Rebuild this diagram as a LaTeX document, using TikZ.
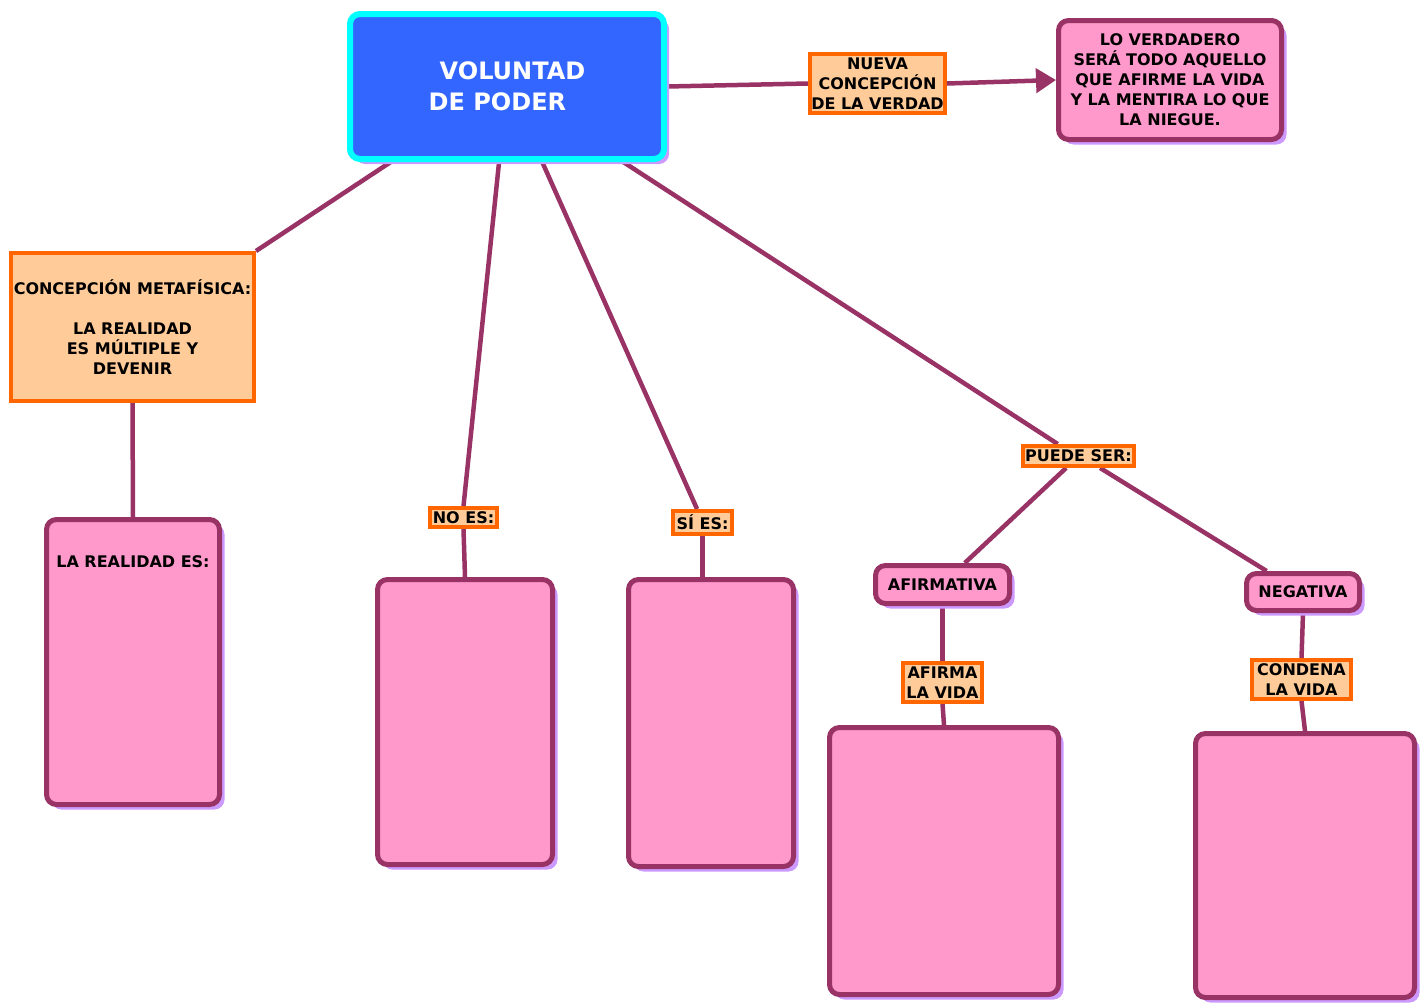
\documentclass[tikz,border=0pt]{standalone}
\usepackage{fontspec}
\setmainfont{DejaVu Sans}
\usetikzlibrary{arrows.meta, positioning, backgrounds, shadows}

\definecolor{plum}{HTML}{993366}
\definecolor{rosa}{HTML}{FF99CC}
\definecolor{lila}{HTML}{CC99FF}
\definecolor{naranja}{HTML}{FF6600}
\definecolor{melon}{HTML}{FFCC99}
\definecolor{azul}{HTML}{3366FF}
\definecolor{cian}{HTML}{00FFFF}

\begin{document}
\begin{tikzpicture}[
      x=1pt, y=-1pt,
      font=\fontsize{16}{20}\selectfont\bfseries,
      lilashadow/.style={drop shadow={shadow xshift=5pt, shadow yshift=-5pt, fill=lila, opacity=1}},
      rosabox/.style={rectangle, rounded corners=10pt, draw=plum, line width=5pt, fill=rosa, lilashadow, inner sep=2pt, align=center},
      tag/.style={rectangle, draw=naranja, line width=4pt, fill=melon, inner sep=1pt, align=center},
      link/.style={draw=plum, line width=4.5pt}
    ]
    \useasboundingbox (0,0) rectangle (1426,1004);

    % Root
    \node[rectangle, rounded corners=10pt, draw=cian, line width=6pt, fill=azul, lilashadow,
      minimum width=314pt, minimum height=145pt, text=white, align=left,
      font=\fontsize{24}{31}\selectfont\bfseries] (voluntad) at (507,86.5) {\hspace*{11pt}VOLUNTAD\\DE PODER\hspace*{16pt}};

    % Truth
    \node[tag, minimum width=135pt, minimum height=59pt] (nueva) at (877.5,83.5) {NUEVA\\CONCEPCIÓN\\DE LA VERDAD};
    \node[rosabox, minimum width=223pt, minimum height=119pt] (verdadero) at (1170,80) {LO VERDADERO\\SERÁ TODO AQUELLO\\QUE AFIRME LA VIDA\\Y LA MENTIRA LO QUE\\LA NIEGUE.};

    % Metaphysics
    \node[tag, minimum width=243pt, minimum height=148pt] (metafisica) at (132.5,327) {CONCEPCIÓN METAFÍSICA:\\[20pt]LA REALIDAD\\ES MÚLTIPLE Y\\DEVENIR};
    \node[rosabox, minimum width=173pt, minimum height=285pt,
      label={[anchor=north, yshift=-35pt]north:LA REALIDAD ES:}] (realidad) at (133,662) {};

    % No es / Si es
    \node[tag, minimum width=67pt, minimum height=19pt] (noes) at (463.5,517.5) {NO ES:};
    \node[rosabox, minimum width=175pt, minimum height=285pt] (noesbox) at (465,722) {};
    \node[tag, minimum width=59pt, minimum height=23pt] (sies) at (702.5,522.5) {SÍ ES:};
    \node[rosabox, minimum width=165pt, minimum height=287pt] (siesbox) at (711,723) {};

    % Puede ser
    \node[tag, minimum width=111pt, minimum height=20pt] (puede) at (1078.5,456) {PUEDE SER:};
    \node[rosabox, minimum width=134pt, minimum height=38pt] (afirmativa) at (942.5,584.5) {AFIRMATIVA};
    \node[rosabox, minimum width=113pt, minimum height=37pt] (negativa) at (1303,592) {NEGATIVA};
    \node[tag, minimum width=79pt, minimum height=39pt] (afirma) at (942.5,682.5) {AFIRMA\\LA VIDA};
    \node[tag, minimum width=99pt, minimum height=39pt] (condena) at (1301.5,679.5) {CONDENA\\LA VIDA};
    \node[rosabox, minimum width=229pt, minimum height=267pt] (afirmabox) at (944,861) {};
    \node[rosabox, minimum width=219pt, minimum height=264pt] (condenabox) at (1305,865.5) {};

    % Connections
    \begin{scope}[on background layer]
      \draw[link] (voluntad.east) -- (nueva.west);
      \draw[link, -{Triangle[length=20pt, width=24pt]}] (nueva.east) -- (verdadero.west);
      \draw[link] (voluntad.213) -- (metafisica.north east);
      \draw[link] (metafisica.south) -- (realidad.north);
      \draw[link] (voluntad.264) -- (noes.north);
      \draw[link] (noes.south) -- (noesbox.north);
      \draw[link] (voluntad.295) -- (sies.112);
      \draw[link] (sies.south) -- (sies.south |- siesbox.north);
      \draw[link] (voluntad.327) -- (puede.150);
      \draw[link] (puede.224) -- (afirmativa.44);
      \draw[link] (puede.331) -- (negativa.150);
      \draw[link] (afirmativa.south) -- (afirma.north);
      \draw[link] (afirma.south) -- (afirmabox.north);
      \draw[link] (negativa.south) -- (condena.north);
      \draw[link] (condena.south) -- (condenabox.north);
    \end{scope}

\end{tikzpicture}
\end{document}
